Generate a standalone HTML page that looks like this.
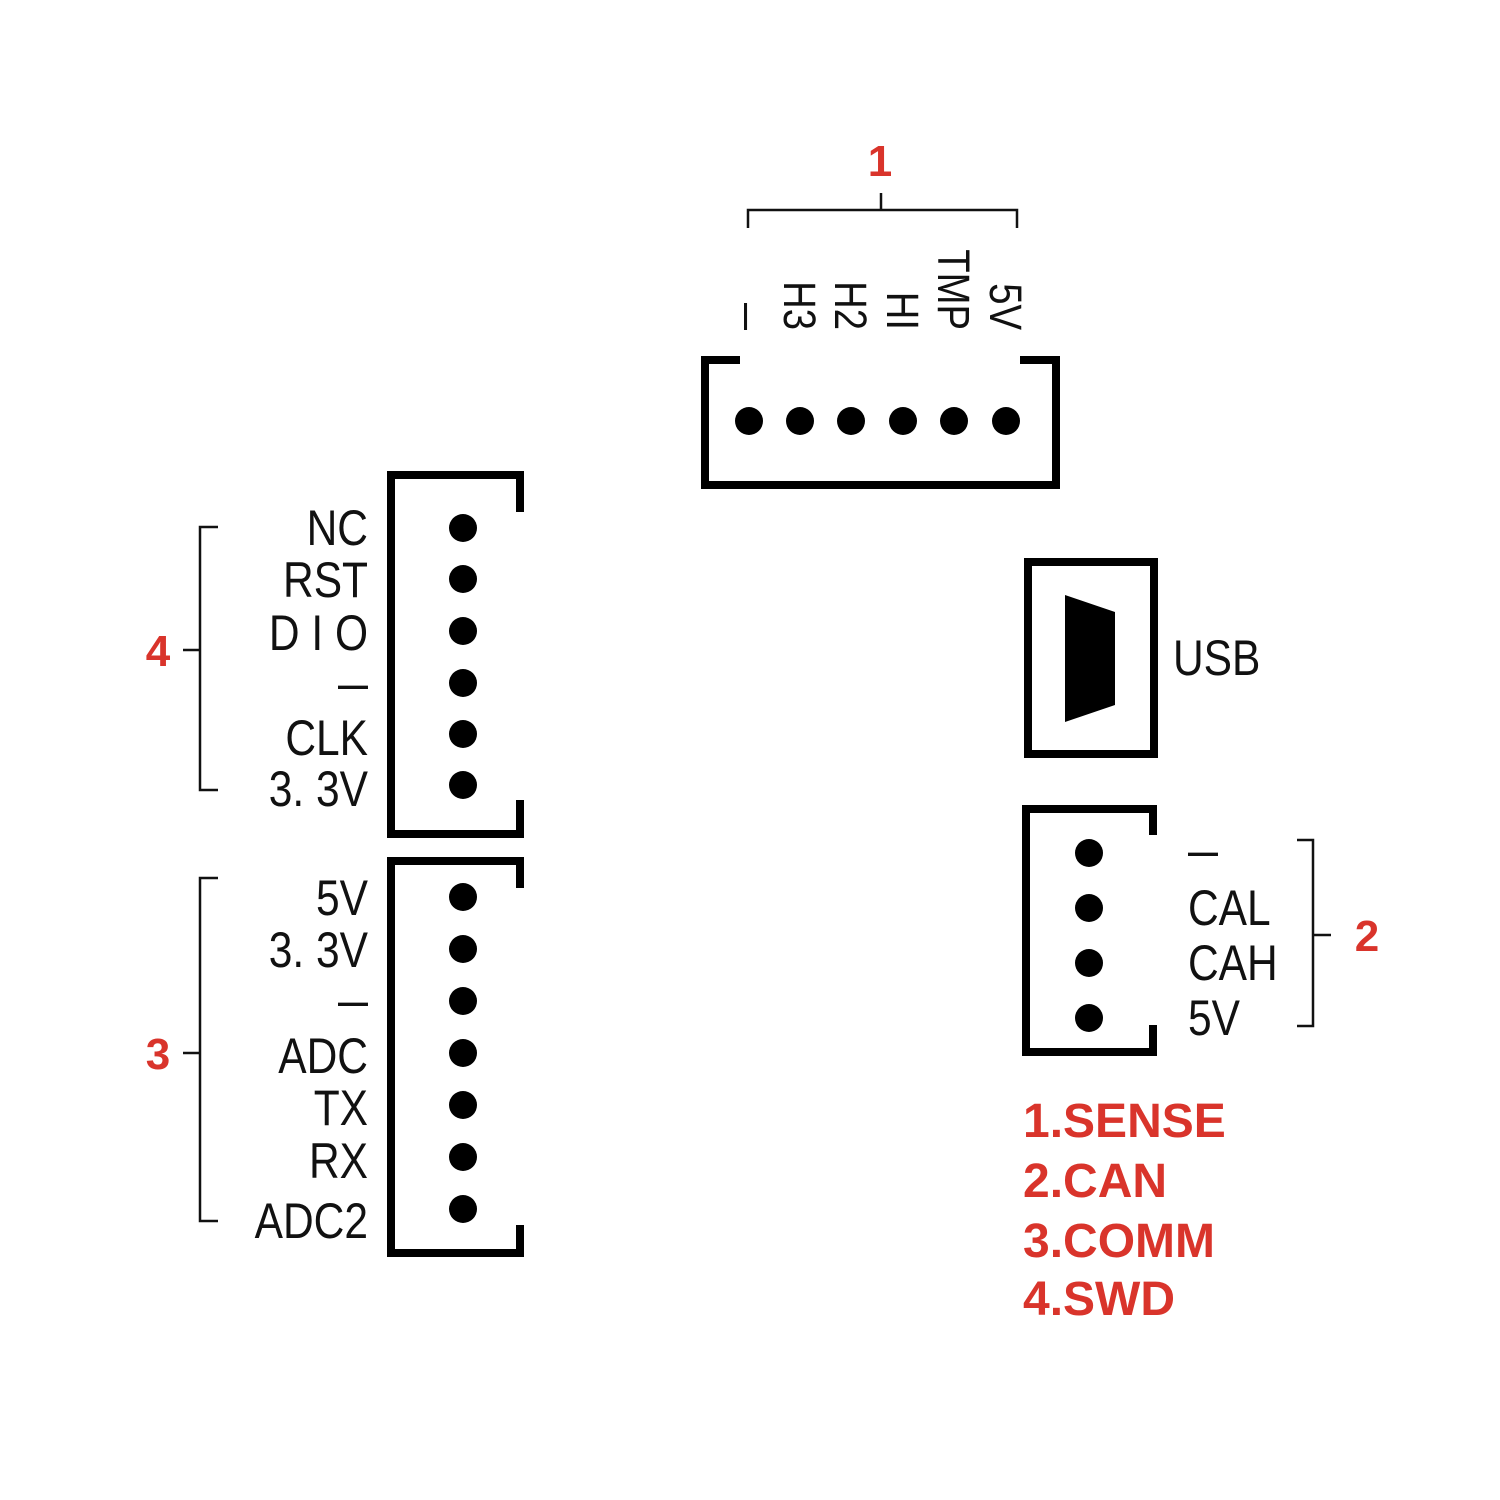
<!DOCTYPE html>
<html><head><meta charset="utf-8"><style>
html,body{margin:0;padding:0;background:#fff;}
svg{display:block;}
.l{font-family:"Liberation Sans",sans-serif;font-size:50px;fill:#111;}
.r{font-family:"Liberation Sans",sans-serif;font-weight:bold;fill:#d9342b;}
</style></head><body>
<svg width="1500" height="1500" viewBox="0 0 1500 1500" xmlns="http://www.w3.org/2000/svg">
<g fill="none" stroke="#000" stroke-width="8">
  <polyline points="740,360 705,360 705,485 1056,485 1056,360 1020,360"/>
  <polyline points="520,512 520,475 391,475 391,834 520,834 520,800"/>
  <polyline points="520,888 520,861 391,861 391,1253 520,1253 520,1225"/>
  <rect x="1028" y="562" width="126" height="192"/>
  <polyline points="1153,835 1153,809 1026,809 1026,1052 1153,1052 1153,1025"/>
</g>
<polygon points="1065,595 1115,612 1115,705 1065,722" fill="#000"/>
<g fill="none" stroke="#111" stroke-width="2.5">
  <polyline points="748,228 748,210 1017,210 1017,228"/>
  <line x1="881" y1="210" x2="881" y2="193"/>
  <polyline points="218,527 200,527 200,790 218,790"/>
  <line x1="183" y1="650" x2="200" y2="650"/>
  <polyline points="218,878 200,878 200,1221 218,1221"/>
  <line x1="183" y1="1053" x2="200" y2="1053"/>
  <polyline points="1297,840 1313,840 1313,1026 1297,1026"/>
  <line x1="1313" y1="935" x2="1331" y2="935"/>
</g>
<g fill="#000">
  <circle cx="749" cy="421" r="14"/><circle cx="800" cy="421" r="14"/><circle cx="851" cy="421" r="14"/>
  <circle cx="903" cy="421" r="14"/><circle cx="954" cy="421" r="14"/><circle cx="1006" cy="421" r="14"/>
  <circle cx="463" cy="528" r="14"/><circle cx="463" cy="579" r="14"/><circle cx="463" cy="631" r="14"/>
  <circle cx="463" cy="683" r="14"/><circle cx="463" cy="734" r="14"/><circle cx="463" cy="785" r="14"/>
  <circle cx="463" cy="897" r="14"/><circle cx="463" cy="949" r="14"/><circle cx="463" cy="1001" r="14"/>
  <circle cx="463" cy="1053" r="14"/><circle cx="463" cy="1105" r="14"/><circle cx="463" cy="1157" r="14"/>
  <circle cx="463" cy="1209" r="14"/>
  <circle cx="1089" cy="853" r="14"/><circle cx="1089" cy="908" r="14"/><circle cx="1089" cy="963" r="14"/><circle cx="1089" cy="1018" r="14"/>
</g>
<g class="l" text-anchor="end" style="font-size:45px">
  <text transform="translate(734,330) rotate(90) scale(0.6,1)">—</text>
  <text transform="translate(784,330) rotate(90) scale(0.85,1)">H3</text>
  <text transform="translate(835,330) rotate(90) scale(0.85,1)">H2</text>
  <text transform="translate(887,330) rotate(90) scale(0.85,1)">HI</text>
  <text transform="translate(938,330) rotate(90) scale(0.85,1)">TMP</text>
  <text transform="translate(990,330) rotate(90) scale(0.85,1)">5V</text>
</g>
<g class="l" text-anchor="end">
  <text transform="translate(368,545) scale(0.85,1)">NC</text>
  <text transform="translate(368,597) scale(0.85,1)">RST</text>
  <text transform="translate(368,650) scale(0.85,1)">D I O</text>
  <text transform="translate(368,700) scale(0.6,1)">—</text>
  <text transform="translate(368,755) scale(0.85,1)">CLK</text>
  <text transform="translate(368,806) scale(0.85,1)">3. 3V</text>
  <text transform="translate(368,915) scale(0.85,1)">5V</text>
  <text transform="translate(368,967) scale(0.85,1)">3. 3V</text>
  <text transform="translate(368,1017) scale(0.6,1)">—</text>
  <text transform="translate(368,1073) scale(0.85,1)">ADC</text>
  <text transform="translate(368,1125) scale(0.85,1)">TX</text>
  <text transform="translate(368,1178) scale(0.85,1)">RX</text>
  <text transform="translate(368,1238) scale(0.85,1)">ADC2</text>
</g>
<g class="l">
  <text transform="translate(1188,867) scale(0.6,1)">—</text>
  <text transform="translate(1188,925) scale(0.85,1)">CAL</text>
  <text transform="translate(1188,980) scale(0.85,1)">CAH</text>
  <text transform="translate(1188,1035) scale(0.85,1)">5V</text>
  <text transform="translate(1173,675) scale(0.85,1)">USB</text>
</g>
<g class="r" style="font-size:44px" text-anchor="middle">
  <text x="880" y="176">1</text>
  <text x="158" y="666">4</text>
  <text x="158" y="1069">3</text>
  <text x="1367" y="951">2</text>
</g>
<g class="r" style="font-size:48px">
  <text x="1023" y="1137">1.SENSE</text>
  <text x="1023" y="1197">2.CAN</text>
  <text x="1023" y="1257">3.COMM</text>
  <text x="1023" y="1315">4.SWD</text>
</g>
</svg>
</body></html>
